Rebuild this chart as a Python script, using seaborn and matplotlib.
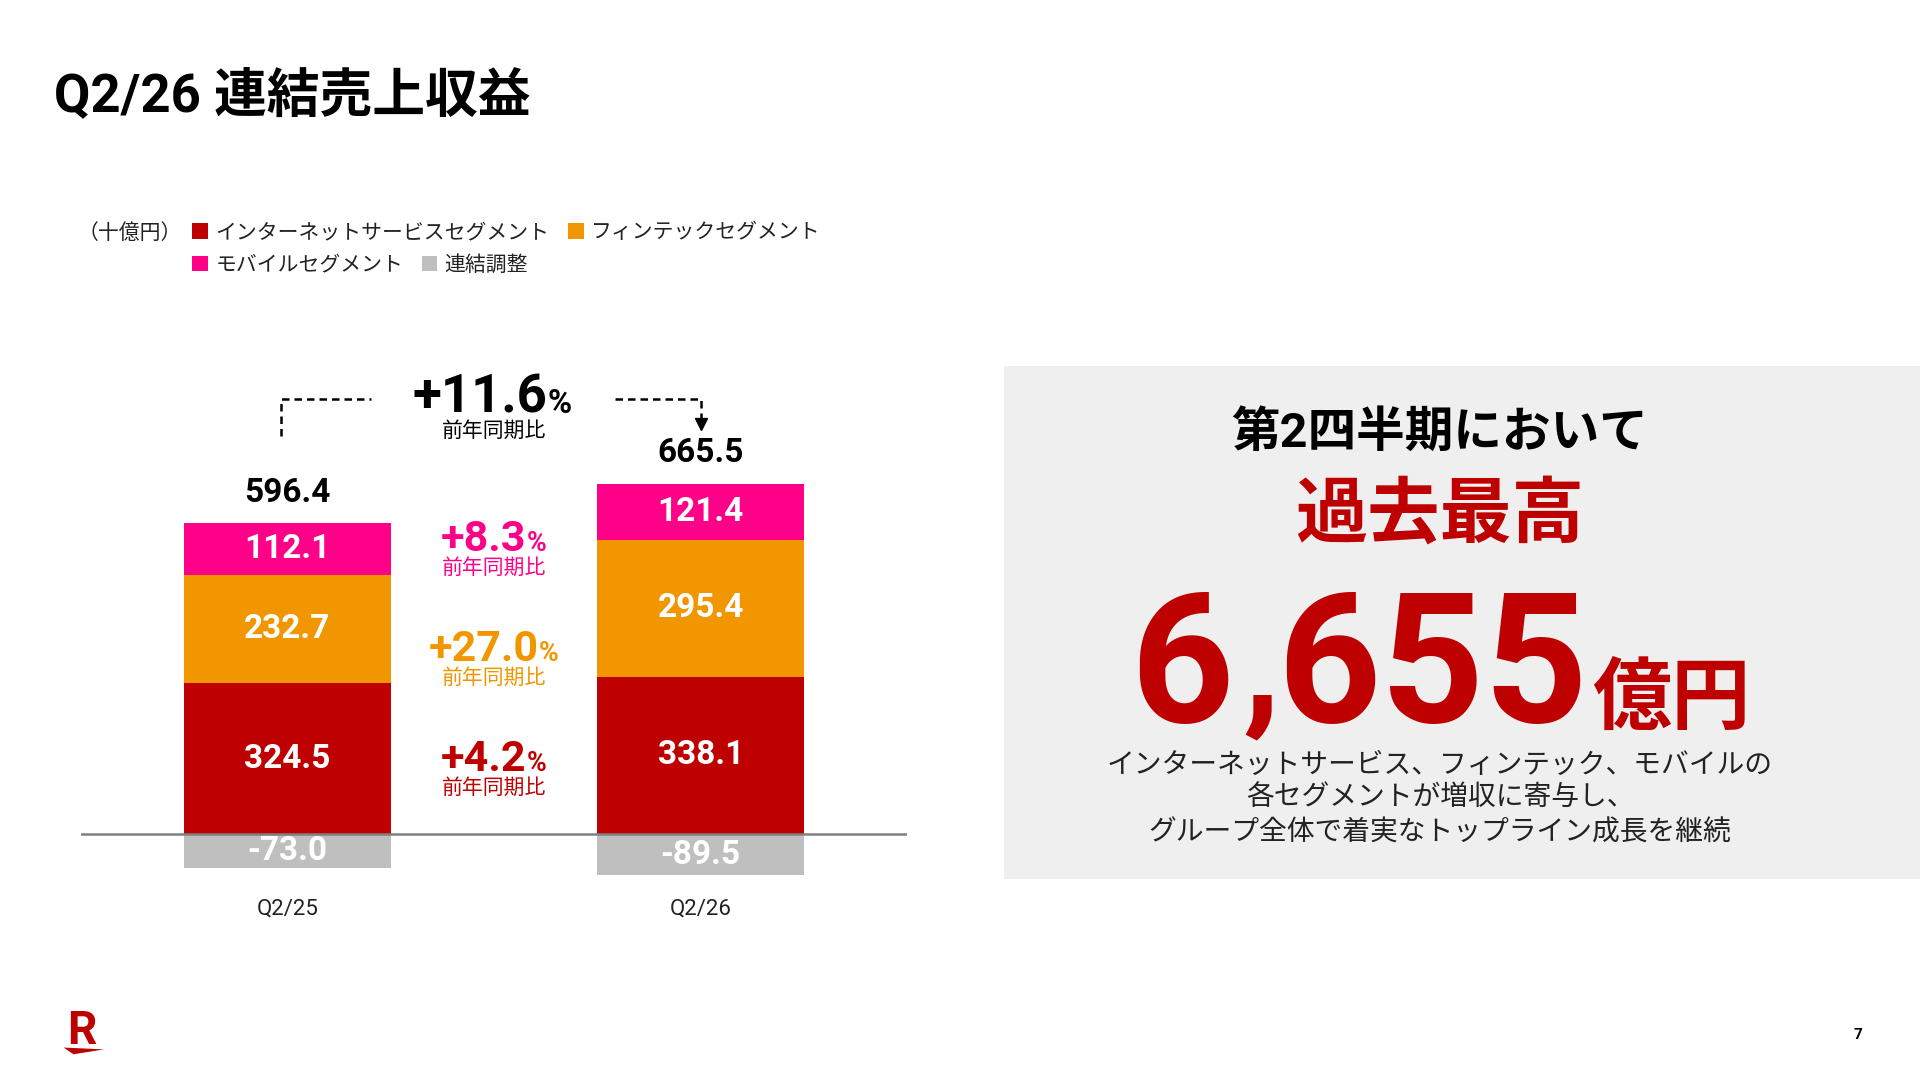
import matplotlib
matplotlib.use("Agg")

import matplotlib.pyplot as plt
import pandas as pd
import seaborn as sns
from matplotlib.patches import Patch, Polygon, Rectangle

# data (十億円)
periods = ["Q2/25", "Q2/26"]
segments = ["インターネットサービスセグメント", "フィンテックセグメント", "モバイルセグメント", "連結調整"]
internet = [324.5, 338.1]
fintech = [232.7, 295.4]
mobile = [112.1, 121.4]
adjust = [-73.0, -89.5]
totals = [596.4, 665.5]

# yoy growth labels
yoy_total = "+11.6"
yoy_internet = "+4.2"
yoy_fintech = "+27.0"
yoy_mobile = "+8.3"

headline = "6,655"

RED = "#BF0000"
ORANGE = "#F29600"
PINK = "#FF0088"
GRAY = "#BFBFBF"
colors = [RED, ORANGE, PINK, GRAY]

W, H = 1568, 882  # reference layout units


def fx(x):
    return x / W


def fy(y):
    return 1 - y / H


sns.set_theme(style="white")
plt.rcParams["font.family"] = ["Roboto", "Noto Sans CJK JP", "DejaVu Sans"]

fig = plt.figure(figsize=(19.2, 10.8), dpi=100)
fig.patch.set_facecolor("white")

# chart axes: y 0 at 681, 0.379 px per unit
px_unit = 0.379
y_lo, y_hi = -200, 1000
top_px = 681 - y_hi * px_unit
bot_px = 681 - y_lo * px_unit
ax = fig.add_axes([fx(66), fy(bot_px), fx(741) - fx(66), (bot_px - top_px) / H])

df = pd.DataFrame({
    "period": periods * 4,
    "segment": [s for s in segments for _ in periods],
    "value": internet + fintech + mobile + adjust,
})

bottoms = [
    [0, 0],
    internet,
    [a + b for a, b in zip(internet, fintech)],
    [0, 0],
]

for seg, col, bot in zip(segments, colors, bottoms):
    sns.barplot(
        data=df[df["segment"] == seg],
        x="period",
        y="value",
        order=periods,
        bottom=bot,
        color=col,
        saturation=1,
        width=0.5,
        errorbar=None,
        linewidth=0,
        ax=ax,
    )

ax.axhline(0, color="#808080", lw=1.8, zorder=5)
ax.set_xlim(-0.5, 1.5)
ax.set_ylim(y_lo, y_hi)
ax.set_axis_off()

# labels inside bars
for i in range(len(periods)):
    for vals, bot in zip([internet, fintech, mobile, adjust], bottoms):
        ax.text(i, bot[i] + vals[i] / 2, f"{vals[i]:.1f}", ha="center", va="center",
                color="white", fontsize=24, fontweight="bold", zorder=6)
    top = internet[i] + fintech[i] + mobile[i]
    ax.text(i, top + 66, f"{totals[i]:.1f}", ha="center", va="center",
            color="black", fontsize=24, fontweight="bold")
    ax.text(i, -161, periods[i], ha="center", va="center", color="#222222", fontsize=16)


def yoy(x, y_base, y_sub, txt, color, size):
    ax.text(x, y_base, txt, ha="right", va="baseline", color=color,
            fontsize=size, fontweight="bold")
    ax.text(x, y_base, "%", ha="left", va="baseline", color=color,
            fontsize=size * 0.62, fontweight="bold")
    ax.text(0.5, y_sub, "前年同期比", ha="center", va="center", color=color, fontsize=15)


yoy(0.629, 907, 868, yoy_total, "black", 38)
yoy(0.579, 610, 573, yoy_mobile, PINK, 31)
yoy(0.609, 372, 335, yoy_fintech, ORANGE, 31)
yoy(0.579, 135, 98, yoy_internet, RED, 31)

# dashed bracket
dash = (0, (3, 2))
ax.plot([-0.015, -0.015, 0.202], [857, 937, 937], color="black", lw=1.8, linestyle=dash)
ax.plot([0.792, 1.0, 1.0], [937, 937, 892], color="black", lw=1.8, linestyle=dash)
ax.plot([1.0], [884], marker="v", markersize=8, color="black")

# legend
fig.text(fx(63), fy(190), "（十億円）", ha="left", va="center", fontsize=15, color="#222222")
handles = [Patch(facecolor=c, edgecolor="none") for c in colors]
leg_kw = dict(frameon=False, ncol=2, fontsize=15, handlelength=0.75, handleheight=0.75,
              handletextpad=0.35, columnspacing=0.9, borderpad=0, borderaxespad=0,
              loc="center left")
leg1 = fig.legend(handles[:2], segments[:2], bbox_to_anchor=(fx(157), fy(190)), **leg_kw)
leg2 = fig.legend(handles[2:], segments[2:], bbox_to_anchor=(fx(157), fy(216)), **leg_kw)
for leg in (leg1, leg2):
    for t in leg.get_texts():
        t.set_color("#222222")

# title
fig.text(fx(44), fy(79), "Q2/26 連結売上収益", ha="left", va="center",
         fontsize=38, fontweight="bold", color="black")

# right panel
fig.patches.append(Rectangle((fx(820), fy(718)), 1 - fx(820), fy(299) - fy(718),
                             transform=fig.transFigure, facecolor="#EFEFEF",
                             edgecolor="none", zorder=0))
cx = fx(1176)
fig.text(cx, fy(354), "第2四半期において", ha="center", va="center",
         fontsize=35, fontweight="bold", color="black")
fig.text(cx, fy(422), "過去最高", ha="center", va="center",
         fontsize=52, fontweight="bold", color=RED)

# big number: comma drawn smaller so it stays clear of the text below
head, tail = headline.split(",")
fig.text(fx(923), fy(590), head, ha="left", va="baseline",
         fontsize=130, fontweight="bold", color=RED)
fig.text(fx(1030), fy(582), ",", ha="center", va="baseline",
         fontsize=110, fontweight="bold", color=RED)
fig.text(fx(1297), fy(590), tail, ha="right", va="baseline",
         fontsize=130, fontweight="bold", color=RED)
fig.text(fx(1300), fy(590), "億円", ha="left", va="baseline",
         fontsize=57, fontweight="bold", color=RED)
desc = [
    "インターネットサービス、フィンテック、モバイルの",
    "各セグメントが増収に寄与し、",
    "グループ全体で着実なトップライン成長を継続",
]
for line, y in zip(desc, [625, 652, 680]):
    fig.text(cx, fy(y), line, ha="center", va="center", fontsize=20, color="#222222")

# logo and page number
fig.text(fx(55), fy(853), "R", ha="left", va="baseline", fontsize=33,
         fontweight="bold", color=RED)
fig.patches.append(Polygon([(fx(52), fy(855.5)), (fx(85), fy(857)), (fx(60), fy(861))],
                           closed=True, transform=fig.transFigure,
                           facecolor=RED, edgecolor="none"))
fig.text(fx(1517), fy(845), "7", ha="center", va="center", fontsize=11,
         fontweight="bold", color="black")

fig.savefig("out.png", dpi=100, facecolor="white")
